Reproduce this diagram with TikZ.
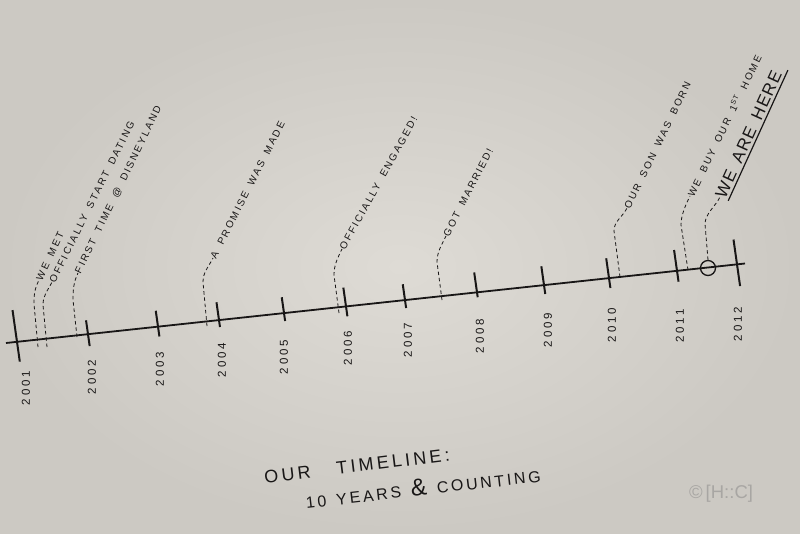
\documentclass[tikz,border=0pt]{standalone}
\usepackage{fontspec}
\setmainfont{Liberation Sans}
\newfontfamily\hand[LetterSpace=20,WordSpace=1.8]{Liberation Sans}
\newfontfamily\bighand[LetterSpace=8,WordSpace=1.6]{Liberation Sans}
\newfontfamily\yearf[LetterSpace=26]{Liberation Sans}
\newfontfamily\titlef[LetterSpace=18,WordSpace=1.8]{Liberation Sans}
\newfontfamily\titlefb[LetterSpace=17,WordSpace=1.4]{Liberation Sans}
\usetikzlibrary{calc}
\definecolor{paper}{RGB}{222,219,213}
\definecolor{paperedge}{RGB}{204,201,195}
\definecolor{ink}{RGB}{24,22,22}
\definecolor{wm}{RGB}{168,166,163}
\begin{document}
\begin{tikzpicture}[x=1pt,y=-1pt,
  axis/.style={ink, line width=1.8pt},
  tickmark/.style={ink, line width=2pt},
  leader/.style={ink, line width=0.8pt, dash pattern=on 3.5pt off 2.8pt},
  lbl/.style={text=ink, font=\hand\fontsize{10}{12}\selectfont, anchor=west, inner sep=0pt},
  bigl/.style={text=ink, font=\bighand\fontsize{17}{20}\selectfont, anchor=west, inner sep=0pt},
  yr/.style={text=ink, font=\yearf\fontsize{11.5}{12}\selectfont, rotate=90, inner sep=0pt},
  ttl/.style={text=ink, font=\titlef\fontsize{18}{20}\selectfont, inner sep=0pt},
  ttlb/.style={text=ink, font=\titlefb\fontsize{16}{18}\selectfont, inner sep=0pt},
]
\useasboundingbox (0,0) rectangle (800,533);
\shade[inner color=paper, outer color=paperedge] (0,0) rectangle (800,533);

% main axis
\coordinate (L) at (6,343);
\coordinate (R) at (745,263.5);
\draw[axis] (L) -- (R);

% ticks
\foreach \yy/\xx/\ly/\a/\b in {
  2001/17/341.8/32/20, 2002/88/334.2/14/12, 2003/158/326.6/16/10,
  2004/219/320.1/18/7, 2005/284/313.1/16/8, 2006/346/306.4/19/10,
  2007/405/300.1/16/8, 2008/477/292.3/20/5, 2009/544/285.1/19/9,
  2010/609/278.1/20/10, 2011/677/270.8/21/11, 2012/737/264.3/25/22}{
  \coordinate (y\yy) at (\xx,\ly);
  \draw[tickmark] (y\yy) ++({-0.14*\a},{-0.99*\a}) -- ++({0.14*(\a+\b)},{0.99*(\a+\b)});
}

% year labels
\foreach \yy/\xx/\ly in {2001/26/388, 2002/92/377, 2003/160/369, 2004/222/360,
  2005/284/357, 2006/348/348, 2007/408/340, 2008/480/336, 2009/548/330,
  2010/612/325, 2011/680/326, 2012/738/324}{
  \node[yr] (n\yy) at (\xx,\ly) {\yy};
}

% event labels
\node[lbl, rotate=65]   (l1) at (39,280)  {WE MET};
\node[lbl, rotate=63.5] (l2) at (52,282)  {OFFICIALLY START DATING};
\node[lbl, rotate=64]   (l3) at (78,273)  {FIRST TIME @ DISNEYLAND};
\node[lbl, rotate=63]   (l4) at (213,258) {A PROMISE WAS MADE};
\node[lbl, rotate=61]   (l5) at (342,249) {OFFICIALLY ENGAGED!};
\node[lbl, rotate=63]   (l6) at (446,236) {GOT MARRIED!};
\node[lbl, rotate=64]   (l7) at (627,208) {OUR SON WAS BORN};
\node[lbl, rotate=64]   (l8) at (690,196) {WE BUY OUR 1\textsuperscript{ST} HOME};
\node[bigl, rotate=65.5] (l9) at (720,197) {WE ARE HERE};
\draw[ink, line width=1.2pt] ($(l9.south west)!3pt!-90:(l9.south east)$) -- ($($(l9.south east)!3pt!90:(l9.south west)$)!-6pt!(l9.south west)$);

% "we are here" marker
\node[draw=ink, line width=1.3pt, circle, minimum size=15pt, inner sep=0pt] (here) at (708,268) {};

% leader bottoms and bends
\coordinate (b1) at (38,347);  \coordinate (v1) at (34,304);
\coordinate (b2) at (47,347);  \coordinate (v2) at (43,305);
\coordinate (b3) at (77,337);  \coordinate (v3) at (73,300);
\coordinate (b4) at (207,326); \coordinate (v4) at (203,282);
\coordinate (b5) at (339,313); \coordinate (v5) at (334,275);
\coordinate (b6) at (442,300); \coordinate (v6) at (437,262);
\coordinate (b7) at (620,277); \coordinate (v7) at (614,231);
\coordinate (b8) at (688,270); \coordinate (v8) at (681,225);
\coordinate (v9) at (705,224);

\foreach \i in {1,...,8}{
  \draw[leader] (b\i) -- (v\i) .. controls +(0,-10) and +(-4.4,9) .. (l\i.west);
}
\draw[leader] (here.north) -- (v9) .. controls +(0,-10) and +(-4.4,9) .. (l9.west);

% title
\node[ttl, rotate=7] (t1) at (357,466) {OUR\hspace{26pt}TIMELINE:};
\node[ttlb, rotate=6.5] (t2) at (423,487) {10 YEARS {\fontsize{24}{24}\selectfont\&} COUNTING};

% watermark
\node[text=wm, font=\fontsize{18.5}{19}\selectfont, inner sep=0pt] (wmk) at (721,494) {©\,[H::C]};
\end{tikzpicture}
\end{document}
